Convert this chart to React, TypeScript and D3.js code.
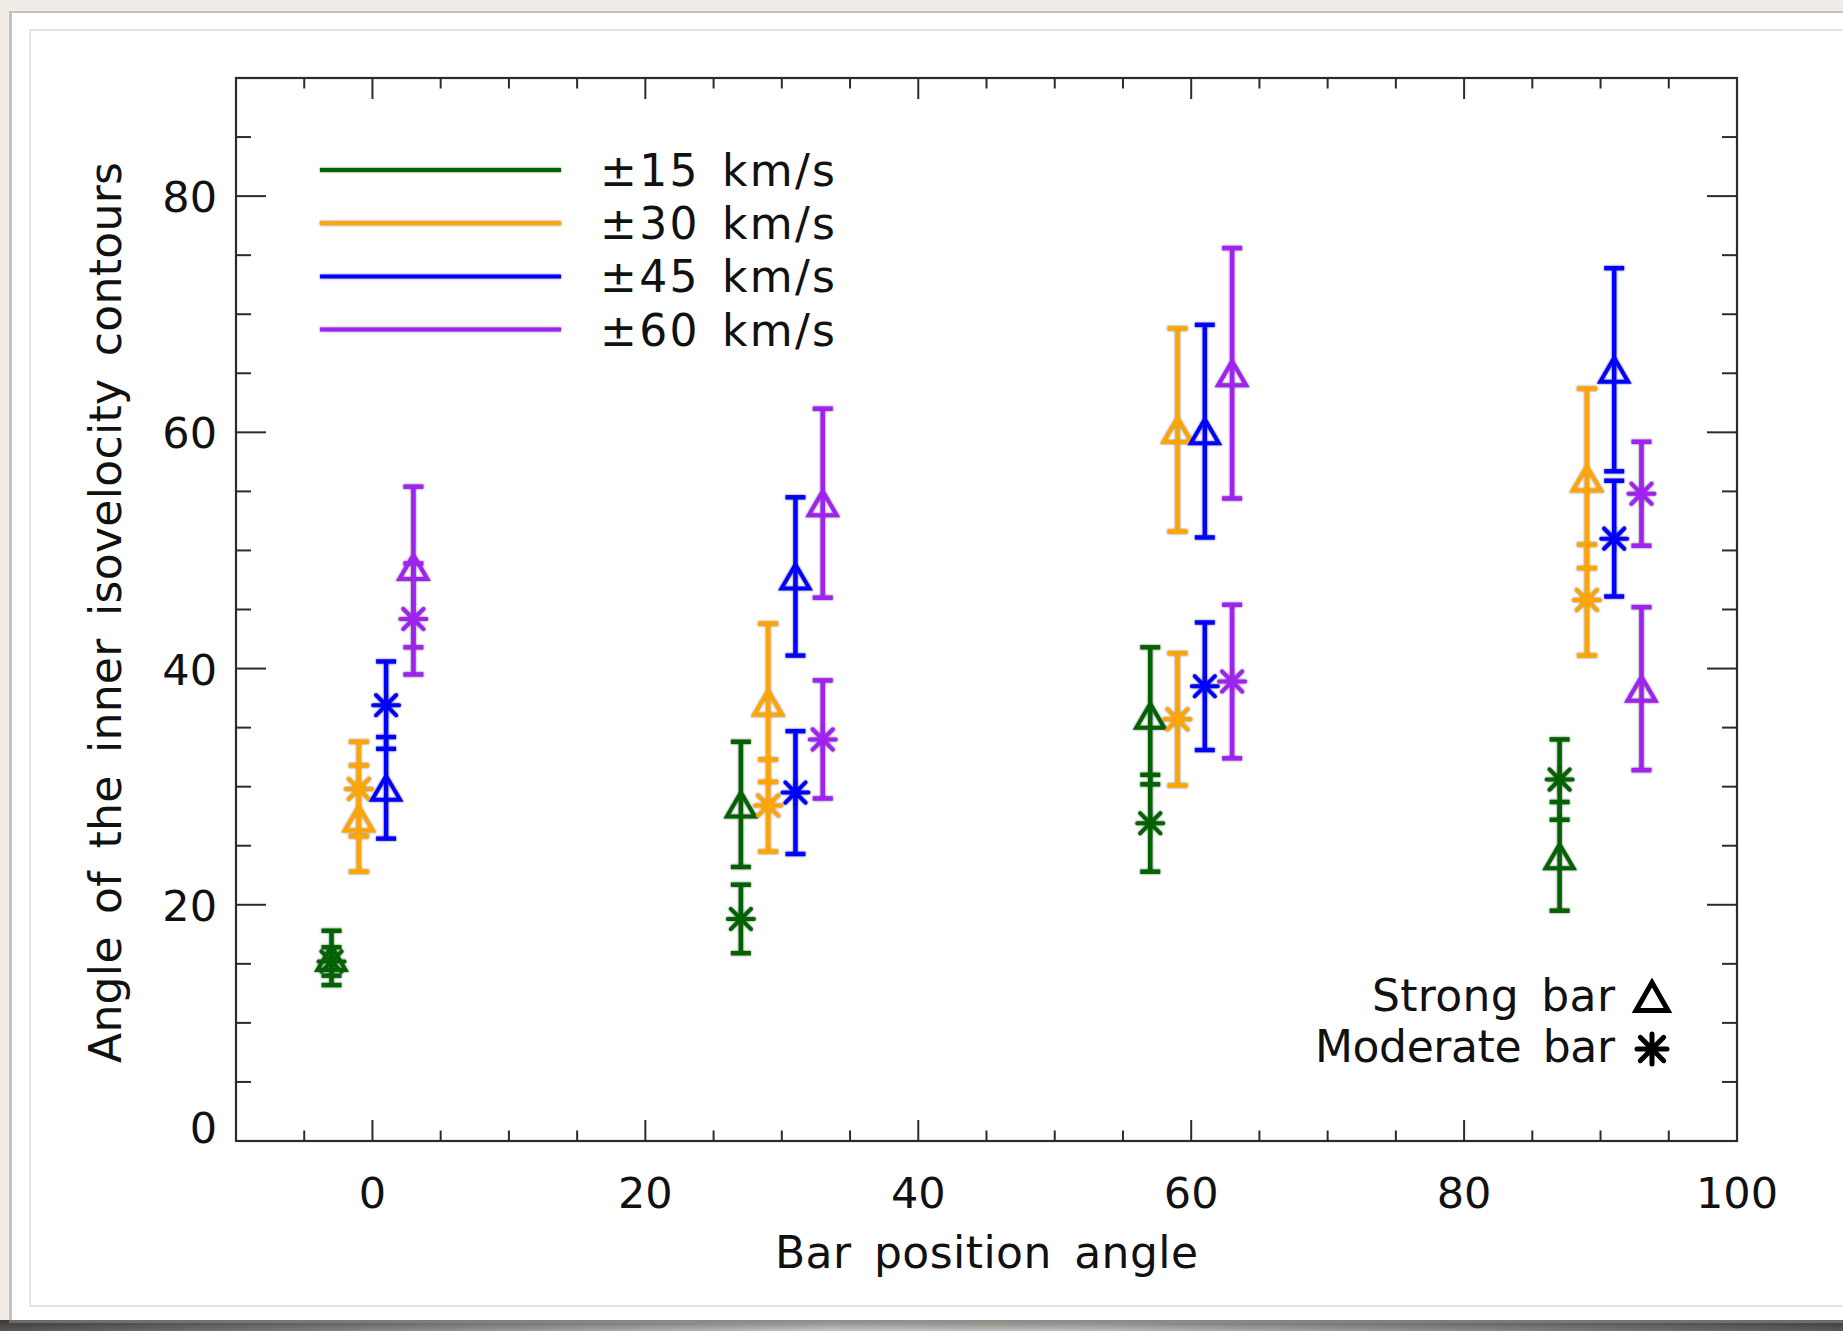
import React from "react";
import * as d3 from "d3";

// Velocity cuts (legend) and their colours
const cutLabels = ["±15 km/s", "±30 km/s", "±45 km/s", "±60 km/s"];
const cutColors = ["#006400", "#FFA500", "#0000FF", "#A020F0"];

// Bar position angle of each galaxy group, and per-cut horizontal offset
const barAngles = [0, 30, 60, 90];
const cutOffsets = [-3, -1, 1, 3];

// Strong bar (triangles): angle and error per cut, one value per bar angle
const strong15 = [15.5, 28.5, 36.0, 24.1];
const strongErr15 = [2.3, 5.3, 5.8, 4.6];
const strong30 = [27.3, 37.1, 60.2, 56.1];
const strongErr30 = [4.5, 6.7, 8.6, 7.6];
const strong45 = [29.9, 47.8, 60.1, 65.3];
const strongErr45 = [4.3, 6.7, 9.0, 8.6];
const strong60 = [48.6, 54.0, 65.0, 38.3];
const strongErr60 = [6.8, 8.0, 10.6, 6.9];

// Moderate bar (asterisks)
const moderate15 = [15.2, 18.8, 26.9, 30.6];
const moderateErr15 = [1.2, 2.9, 4.1, 3.4];
const moderate30 = [29.8, 28.4, 35.7, 45.8];
const moderateErr30 = [4.0, 3.9, 5.6, 4.7];
const moderate45 = [36.9, 29.5, 38.5, 51.0];
const moderateErr45 = [3.7, 5.2, 5.4, 4.9];
const moderate60 = [44.2, 34.0, 38.9, 54.8];
const moderateErr60 = [4.7, 5.0, 6.5, 4.4];

const strongVals = [strong15, strong30, strong45, strong60];
const strongErrs = [strongErr15, strongErr30, strongErr45, strongErr60];
const moderateVals = [moderate15, moderate30, moderate45, moderate60];
const moderateErrs = [moderateErr15, moderateErr30, moderateErr45, moderateErr60];

const xTickValues = [0, 20, 40, 60, 80, 100];
const yTickValues = [0, 20, 40, 60, 80];

const W = 1843;
const H = 1331;
const FONT = "'DejaVu Sans', Lato, sans-serif";

const x = d3.scaleLinear().domain([-10, 100]).range([236, 1737]);
const y = d3.scaleLinear().domain([0, 90]).range([1141, 78]);

function Triangle({ cx, cy, w, h, color, sw }) {
  const p = d3.path();
  p.moveTo(cx - w / 2, cy + h / 2);
  p.lineTo(cx, cy - h / 2);
  p.lineTo(cx + w / 2, cy + h / 2);
  p.closePath();
  return <path d={p.toString()} fill="none" stroke={color} strokeWidth={sw} strokeLinejoin="miter" />;
}

function Asterisk({ cx, cy, r, color, sw }) {
  const d = r * 0.78;
  const p = d3.path();
  p.moveTo(cx - r, cy); p.lineTo(cx + r, cy);
  p.moveTo(cx, cy - r); p.lineTo(cx, cy + r);
  p.moveTo(cx - d, cy - d); p.lineTo(cx + d, cy + d);
  p.moveTo(cx - d, cy + d); p.lineTo(cx + d, cy - d);
  return <path d={p.toString()} fill="none" stroke={color} strokeWidth={sw} strokeLinecap="round" />;
}

function ErrorBar({ px, v, e, color }) {
  const y0 = y(v - e);
  const y1 = y(v + e);
  const cx = x(px);
  return (
    <g stroke={color} strokeWidth={4.5} fill="none">
      <line x1={cx} x2={cx} y1={y0} y2={y1} />
      <line x1={cx - 10} x2={cx + 10} y1={y0} y2={y0} />
      <line x1={cx - 10} x2={cx + 10} y1={y1} y2={y1} />
    </g>
  );
}

export default function App() {
  const xMinor = d3.range(-10, 101, 5).filter((v) => v % 20 !== 0);
  const yMinor = d3.range(0, 91, 5).filter((v) => v % 20 !== 0);
  const [x0, x1] = x.range();
  const [yb, yt] = y.range();

  const marks = [];
  cutLabels.forEach((_, s) => {
    barAngles.forEach((a, i) => {
      const px = a + cutOffsets[s];
      const c = cutColors[s];
      marks.push(
        <g key={`s${s}-${i}`}>
          <ErrorBar px={px} v={strongVals[s][i]} e={strongErrs[s][i]} color={c} />
          <Triangle cx={x(px)} cy={y(strongVals[s][i])} w={28} h={24} color={c} sw={4} />
        </g>
      );
      marks.push(
        <g key={`m${s}-${i}`}>
          <ErrorBar px={px} v={moderateVals[s][i]} e={moderateErrs[s][i]} color={c} />
          <Asterisk cx={x(px)} cy={y(moderateVals[s][i])} r={13} color={c} sw={4} />
        </g>
      );
    });
  });

  return (
    <svg width={W} height={H} style={{ position: "absolute", left: 0, top: 0 }} fontFamily={FONT}>
      <defs>
        <filter id="halo" filterUnits="userSpaceOnUse" x={0} y={0} width={W} height={H}>
          <feGaussianBlur in="SourceAlpha" stdDeviation="1.1" result="b" />
          <feFlood floodColor="#3a3a3a" floodOpacity="0.75" />
          <feComposite in2="b" operator="in" result="s" />
          <feMerge>
            <feMergeNode in="s" />
            <feMergeNode in="SourceGraphic" />
          </feMerge>
        </filter>
        <linearGradient id="shadow" x1="0" x2="1" y1="0" y2="0">
          <stop offset="0" stopColor="#575652" />
          <stop offset="0.45" stopColor="#c8c6c1" />
          <stop offset="0.6" stopColor="#bebcb7" />
          <stop offset="1" stopColor="#5a5955" />
        </linearGradient>
        <linearGradient id="shadowV" x1="0" x2="0" y1="0" y2="1">
          <stop offset="0" stopColor="#000" stopOpacity="0.35" />
          <stop offset="1" stopColor="#000" stopOpacity="0" />
        </linearGradient>
      </defs>

      {/* page background and card */}
      <rect x={0} y={0} width={W} height={H} fill="#f1ede6" />
      <rect x={0} y={1320} width={W} height={H - 1320} fill="url(#shadow)" />
      <rect x={0} y={1320} width={W} height={H - 1320} fill="url(#shadowV)" />
      <rect x={9} y={11} width={W} height={1312} fill="#9a9893" opacity={0.5} />
      <rect x={12} y={13} width={W} height={1307} fill="#ffffff" />
      <path d={`M${W},30 H30 V1306 H${W}`} fill="none" stroke="#dcdcdc" strokeWidth={1.5} />

      {/* frame */}
      <rect x={x0} y={yt} width={x1 - x0} height={yb - yt} fill="none" stroke="#2b2b2b" strokeWidth={2.2} />

      {/* ticks on all four sides */}
      <g stroke="#2b2b2b" strokeWidth={2}>
        {xTickValues.filter((v) => v < 100).map((v) => (
          <g key={`xt${v}`}>
            <line x1={x(v)} x2={x(v)} y1={yb} y2={yb - 21} />
            <line x1={x(v)} x2={x(v)} y1={yt} y2={yt + 21} />
          </g>
        ))}
        {xMinor.filter((v) => v > -10 && v < 100).map((v) => (
          <g key={`xm${v}`}>
            <line x1={x(v)} x2={x(v)} y1={yb} y2={yb - 10.5} />
            <line x1={x(v)} x2={x(v)} y1={yt} y2={yt + 10.5} />
          </g>
        ))}
        {yTickValues.filter((v) => v > 0).map((v) => (
          <g key={`yt${v}`}>
            <line x1={x0} x2={x0 + 30} y1={y(v)} y2={y(v)} />
            <line x1={x1} x2={x1 - 30} y1={y(v)} y2={y(v)} />
          </g>
        ))}
        {yMinor.filter((v) => v < 90).map((v) => (
          <g key={`ym${v}`}>
            <line x1={x0} x2={x0 + 15} y1={y(v)} y2={y(v)} />
            <line x1={x1} x2={x1 - 15} y1={y(v)} y2={y(v)} />
          </g>
        ))}
      </g>

      {/* tick labels */}
      <g fontSize={43} fill="#111">
        {xTickValues.map((v) => (
          <text key={`xl${v}`} x={x(v)} y={1208} textAnchor="middle">{v}</text>
        ))}
        {yTickValues.map((v) => (
          <text key={`yl${v}`} x={x0 - 19} y={Math.min(y(v), yb - 14) + 16} textAnchor="end">{v}</text>
        ))}
      </g>

      {/* axis titles */}
      <text x={(x0 + x1) / 2} y={1268} textAnchor="middle" fontSize={44} fill="#111"
        wordSpacing={8} textLength={423} lengthAdjust="spacing">Bar position angle</text>
      <text transform={`translate(121, ${(yt + yb) / 2 + 3}) rotate(-90)`} textAnchor="middle" fontSize={44} fill="#111"
        wordSpacing={8} textLength={901} lengthAdjust="spacing">Angle of the inner isovelocity contours</text>

      {/* velocity-cut legend */}
      {cutLabels.map((lab, s) => {
        const ly = 170 + s * 53.2;
        return (
          <g key={lab}>
            <line x1={320} x2={561} y1={ly} y2={ly} stroke={cutColors[s]} strokeWidth={4} filter="url(#halo)" />
            <text x={600} y={ly + 16} fontSize={44} fill="#111" wordSpacing={6}
              textLength={235} lengthAdjust="spacing">{lab}</text>
          </g>
        );
      })}

      {/* bar-strength legend */}
      <text x={1615} y={1011} textAnchor="end" fontSize={44} fill="#111" wordSpacing={8}
        textLength={243} lengthAdjust="spacing">Strong bar</text>
      <Triangle cx={1652} cy={996.5} w={32} h={28} color="#000" sw={5} />
      <text x={1615} y={1062} textAnchor="end" fontSize={44} fill="#111" wordSpacing={8}
        textLength={300} lengthAdjust="spacing">Moderate bar</text>
      <Asterisk cx={1652} cy={1049} r={15} color="#000" sw={5} />

      {/* data */}
      <g filter="url(#halo)">{marks}</g>
    </svg>
  );
}
